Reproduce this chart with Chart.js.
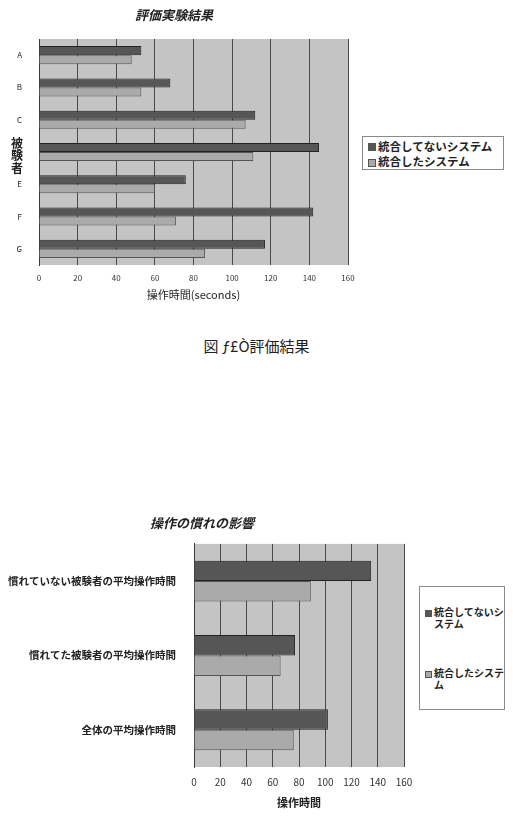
<!DOCTYPE html>
<html>
<head>
<meta charset="utf-8">
<script src="https://cdn.jsdelivr.net/npm/chart.js@4.4.1/dist/chart.umd.min.js"></script>
<style>
  body { margin: 0; background: #fff; width: 513px; height: 826px; position: relative; overflow: hidden;
         font-family: "Noto Sans CJK JP", "Noto Sans", sans-serif; }
  .box { position: absolute; left: 0; width: 513px; }
  .legend { position: absolute; border: 1px solid #8a8a8a; background: #fff; font-weight: bold; color: #222; }
  .legend .item { position: absolute; white-space: nowrap; }
  .legend .mark { position: absolute; width: 6px; height: 6px; border: 1px solid #555; }
  .caption { position: absolute; left: 0; width: 513px; top: 335px; text-align: center; font-size: 15px; color: #222; }
</style>
</head>
<body>

<div class="box" style="top:0;height:305px"><canvas id="evalChart"></canvas></div>
<div class="legend" style="left:362px;top:136px;width:140px;height:32px;font-size:11.5px">
  <div class="mark" style="left:5px;top:6px;background:#565656"></div>
  <div class="item" style="left:15px;top:1px">統合してないシステム</div>
  <div class="mark" style="left:5px;top:22px;background:#aaaaaa"></div>
  <div class="item" style="left:15px;top:16px">統合したシステム</div>
</div>

<div class="caption">図 ƒ£Ò評価結果</div>

<div class="box" style="top:505px;height:310px"><canvas id="habitChart"></canvas></div>
<div class="legend" style="left:419px;top:586px;width:84px;height:122px;font-size:10px;line-height:12px">
  <div class="mark" style="left:5px;top:23px;background:#565656;width:5px;height:5px"></div>
  <div class="item" style="left:14px;top:19px">統合してないシ<br>ステム</div>
  <div class="mark" style="left:5px;top:84px;background:#aaaaaa;width:5px;height:5px"></div>
  <div class="item" style="left:14px;top:80px">統合したシステ<br>ム</div>
</div>

<script>
// Data
const subjects = ['A', 'B', 'C', 'D', 'E', 'F', 'G'];
const evalNotIntegrated = [53, 68, 112, 145, 76, 142, 117];
const evalIntegrated = [48, 53, 107, 111, 60, 71, 86];

const habitGroups = ['慣れていない被験者の平均操作時間', '慣れてた被験者の平均操作時間', '全体の平均操作時間'];
const habitNotIntegrated = [135, 77, 102];
const habitIntegrated = [89, 66, 76];

const seriesNames = ['統合してないシステム', '統合したシステム'];
const xTicks = [0, 20, 40, 60, 80, 100, 120, 140, 160];

const FONT = '"Noto Sans CJK JP", "Noto Sans", sans-serif';
const DARK = '#565656';
const LIGHT = '#aaaaaa';

// gray plot area like the old spreadsheet charts
const plotBg = {
    id: 'plotBg',
    beforeDraw(chart) {
        const { ctx, chartArea: a } = chart;
        ctx.save();
        ctx.fillStyle = '#c4c4c4';
        ctx.fillRect(a.left, a.top, a.right - a.left, a.bottom - a.top);
        ctx.restore();
    }
};

// stacked vertical axis title (被験者)
const stackedTitle = {
    id: 'stackedTitle',
    afterDraw(chart, args, opts) {
        if (!opts.text) return;
        const ctx = chart.ctx;
        ctx.save();
        ctx.font = 'bold 12px ' + FONT;
        ctx.fillStyle = '#222';
        ctx.textAlign = 'center';
        ctx.textBaseline = 'middle';
        opts.text.split('').forEach((ch, i) => {
            ctx.fillText(ch, opts.x, opts.y + i * 12.5);
        });
        ctx.restore();
    }
};

function makeChart(id, cfg) {
    return new Chart(document.getElementById(id).getContext('2d'), {
        type: 'bar',
        data: {
            labels: cfg.labels,
            datasets: [{
                label: seriesNames[0],
                data: cfg.a,
                backgroundColor: DARK,
                borderColor: '#222',
                borderWidth: 1,
                categoryPercentage: cfg.catPct,
                barPercentage: 1
            }, {
                label: seriesNames[1],
                data: cfg.b,
                backgroundColor: LIGHT,
                borderColor: '#555',
                borderWidth: 1,
                categoryPercentage: cfg.catPct,
                barPercentage: 1
            }]
        },
        options: {
            indexAxis: 'y',
            responsive: false,
            animation: false,
            layout: { padding: { left: 0, right: cfg.padRight, top: 0, bottom: cfg.padBottom } },
            plugins: {
                legend: { display: false },
                tooltip: { enabled: false },
                title: {
                    display: true,
                    text: cfg.title,
                    color: '#222',
                    font: { family: FONT, size: 13, weight: 'bold', style: 'italic', lineHeight: 1.2 },
                    padding: cfg.titlePad
                },
                stackedTitle: cfg.sideTitle || {}
            },
            scales: {
                x: {
                    min: 0,
                    max: 160,
                    afterBuildTicks: (scale) => { scale.ticks = xTicks.map(v => ({ value: v })); },
                    afterFit: (scale) => { scale.height = cfg.xHeight; },
                    grid: { color: '#4a4a4a', lineWidth: 1, drawTicks: false },
                    border: { display: false },
                    ticks: { color: '#333', padding: cfg.xTickPad, font: { family: FONT, size: cfg.xTickSize } },
                    title: {
                        display: true,
                        text: cfg.xTitle,
                        color: '#222',
                        font: { family: FONT, size: 11, weight: cfg.xTitleWeight, lineHeight: 1.2 },
                        padding: { top: 0, bottom: cfg.xTitlePad }
                    }
                },
                y: {
                    afterFit: (scale) => { scale.width = cfg.yWidth; },
                    grid: { display: false },
                    border: { display: true, color: '#3a3a3a', width: 1 },
                    ticks: { color: '#222', padding: cfg.yTickPad, font: { family: FONT, size: cfg.yTickSize, weight: cfg.yTickWeight } }
                }
            }
        },
        plugins: [plotBg, stackedTitle]
    });
}

const c1 = document.getElementById('evalChart');
c1.width = 513; c1.height = 305;
makeChart('evalChart', {
    labels: subjects, a: evalNotIntegrated, b: evalIntegrated,
    title: '評価実験結果',
    titlePad: { top: 7, bottom: 16.4 },
    padRight: 165, padBottom: 4, catPct: 0.56,
    xHeight: 36, xTickPad: 8, xTickSize: 8,
    xTitle: '操作時間(seconds)', xTitlePad: 0, xTitleWeight: 'normal',
    yWidth: 39, yTickPad: 9, yTickSize: 8, yTickWeight: 'normal',
    sideTitle: { text: '被験者', x: 17, y: 143 }
});

const c2 = document.getElementById('habitChart');
c2.width = 513; c2.height = 310;
makeChart('habitChart', {
    labels: habitGroups, a: habitNotIntegrated, b: habitIntegrated,
    title: '操作の慣れの影響',
    titlePad: { top: 10, bottom: 13.3 },
    padRight: 109, padBottom: 6, catPct: 0.55,
    xHeight: 42, xTickPad: 9, xTickSize: 10,
    xTitle: '操作時間', xTitlePad: 0, xTitleWeight: 'bold',
    yWidth: 194, yTickPad: 10, yTickSize: 10.5, yTickWeight: 'bold'
});
</script>
</body>
</html>
